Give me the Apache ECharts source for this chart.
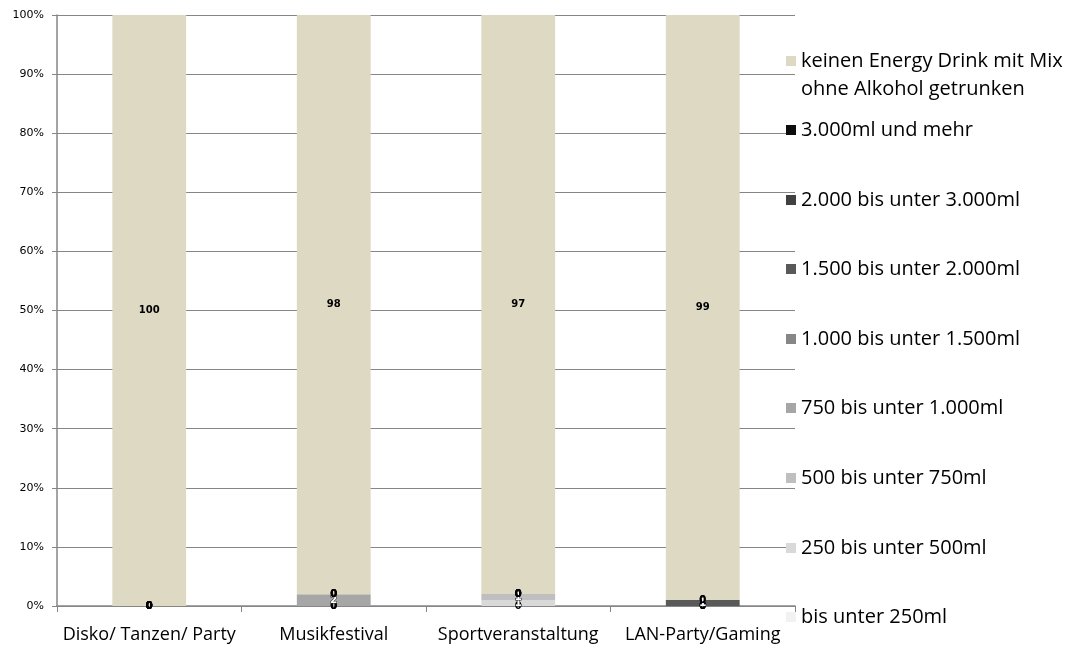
<!DOCTYPE html>
<html>
<head>
<meta charset="utf-8">
<script src="https://cdn.jsdelivr.net/npm/echarts@6/dist/echarts.min.js"></script>
<style>
  html, body { margin: 0; padding: 0; background: #fff; }
  #chart { width: 1082px; height: 646px; }
</style>
</head>
<body>
<div id="chart"></div>
<script>
// Anlässe (x-Achse)
const occasions = ['Disko/ Tanzen/ Party', 'Musikfestival', 'Sportveranstaltung', 'LAN-Party/Gaming'];

// Mengenklassen, von unten nach oben gestapelt
const sizeClasses = [
  'bis unter 250ml',
  '250 bis unter 500ml',
  '500 bis unter 750ml',
  '750 bis unter 1.000ml',
  '1.000 bis unter 1.500ml',
  '1.500 bis unter 2.000ml',
  '2.000 bis unter 3.000ml',
  '3.000ml und mehr',
  'keinen Energy Drink mit Mix ohne Alkohol getrunken'
];

// Werte je Mengenklasse (in der Reihenfolge der Anlässe)
const below250   = [0, 0, 0, 0];
const to500      = [0, 0, 1, 0];
const to750      = [0, 0, 1, 0];
const to1000     = [0, 2, 0, 0];
const to1500     = [0, 0, 0, 0];
const to2000     = [0, 0, 0, 1];
const to3000     = [0, 0, 0, 0];
const from3000   = [0, 0, 0, 0];
const noneMixed  = [100, 98, 97, 99];

const yTicks = ['0%', '10%', '20%', '30%', '40%', '50%', '60%', '70%', '80%', '90%', '100%'];

const seriesValues = [below250, to500, to750, to1000, to1500, to2000, to3000, from3000, noneMixed];
const colors = ['#f2f2f2', '#d9d9d9', '#bfbfbf', '#a6a6a6', '#878787', '#595959', '#404040', '#0d0d0d', '#ddd9c3'];

// Spaltensummen für die 100%-Darstellung
const totals = occasions.map((_, c) => seriesValues.reduce((s, arr) => s + arr[c], 0));

const series = sizeClasses.map((name, i) => ({
  name: name,
  type: 'bar',
  stack: 'share',
  barWidth: '40%',
  itemStyle: { color: colors[i] },
  data: seriesValues[i].map((v, c) => {
    const item = { value: v / totals[c] * 100, raw: v };
    if (v > 0 && v < 10) {
      item.label = { color: '#ffffff', textBorderColor: '#333', textBorderWidth: 1.2 };
    }
    return item;
  }),
  label: {
    show: true,
    position: 'inside',
    fontFamily: 'DejaVu Sans',
    fontSize: 10,
    fontWeight: 'bold',
    color: '#000',
    formatter: p => String(p.data.raw)
  }
}));

// Legende: oberster Stapel zuerst, jeweils eigene Zeile
const legendTops = [14, 111, 181, 250, 320, 389, 459, 529, 598];
const legendOrder = sizeClasses.slice().reverse();
const legends = legendOrder.map((name, i) => ({
  data: [name],
  left: 781,
  top: legendTops[i],
  orient: 'vertical',
  icon: 'rect',
  itemWidth: 10,
  itemHeight: 10,
  itemGap: 4,
  selectedMode: false,
  formatter: n => n.startsWith('keinen') ? '\nkeinen Energy Drink mit Mix\nohne Alkohol getrunken' : n,
  textStyle: {
    fontFamily: 'Open Sans',
    fontSize: 20,
    color: '#000',
    lineHeight: 28,
    padding: [0, 0, 0, 0]
  }
}));

const chart = echarts.init(document.getElementById('chart'), null, { renderer: 'canvas' });
chart.setOption({
  animation: false,
  backgroundColor: '#ffffff',
  grid: { left: 57, right: 287, top: 15, bottom: 40, containLabel: false },
  legend: legends,
  xAxis: {
    type: 'category',
    data: occasions,
    axisLine: { lineStyle: { color: '#868686', width: 1.5 } },
    axisTick: { show: true, alignWithLabel: false, length: 6, lineStyle: { color: '#868686' } },
    axisLabel: { interval: 0, fontFamily: 'Open Sans', fontSize: 18, color: '#000', margin: 20 }
  },
  yAxis: {
    type: 'value',
    min: 0,
    max: 100,
    interval: 10,
    axisLine: { show: true, lineStyle: { color: '#868686', width: 1.5 } },
    axisTick: { show: true, length: 5, lineStyle: { color: '#868686' } },
    splitLine: { show: true, lineStyle: { color: '#868686', width: 1 } },
    axisLabel: {
      fontFamily: 'DejaVu Sans',
      fontSize: 11,
      color: '#000',
      margin: 13,
      formatter: v => yTicks[Math.round(v / 10)]
    }
  },
  series: series
});
</script>
</body>
</html>
